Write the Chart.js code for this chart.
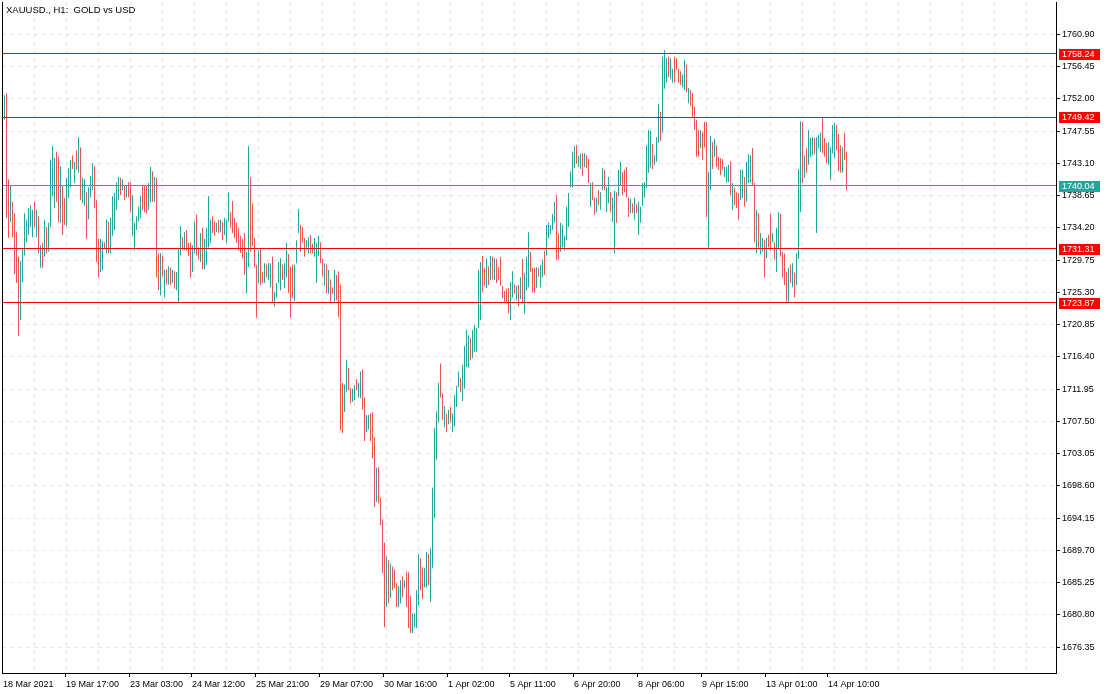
<!DOCTYPE html>
<html><head><meta charset="utf-8">
<script src="https://cdn.jsdelivr.net/npm/chart.js@4.4.0/dist/chart.umd.min.js"></script>
<style>html,body{margin:0;padding:0;background:#fff;}#wrap{width:1110px;height:694px;position:relative;}</style>
</head><body><div id="wrap"><canvas id="c" width="1110" height="694"></canvas></div>
<script>
const chartTitle = 'XAUUSD., H1:  GOLD vs USD';
const highs = [
1752.5,1752.8,1740.9,1740.1,1737.8,1736.2,1733.6,1730.2,1729.6,1731.4,
1736.2,1735.3,1736.9,1737.3,1736.7,1737.8,1736.7,1735.8,1731.8,1732.1,
1735.3,1734.3,1734.9,1743.6,1745.5,1743.8,1744.7,1744.0,1742.7,1740.1,
1738.3,1741.1,1742.5,1743.6,1744.2,1743.3,1744.9,1746.7,1745.3,1741.1,
1740.9,1739.1,1739.8,1741.3,1743.1,1742.7,1738.0,1732.7,1732.7,1732.4,
1732.2,1735.3,1735.0,1735.6,1738.6,1739.0,1740.5,1741.2,1741.1,1740.9,
1740.1,1740.1,1740.5,1740.5,1738.7,1734.9,1735.8,1737.1,1738.6,1740.0,
1740.1,1740.0,1740.4,1742.6,1742.0,1741.2,1741.1,1730.7,1730.7,1730.4,
1728.4,1728.5,1728.9,1728.7,1728.4,1728.2,1728.1,1731.5,1734.4,1732.9,
1733.6,1733.9,1732.1,1732.2,1731.8,1735.0,1736.0,1731.5,1733.5,1734.2,
1732.7,1734.2,1738.6,1735.3,1735.8,1735.1,1734.9,1735.3,1735.3,1735.0,
1735.6,1735.3,1739.1,1736.4,1737.9,1735.6,1734.9,1734.2,1733.1,1732.7,
1733.5,1730.9,1745.5,1741.2,1737.6,1732.8,1729.1,1731.1,1731.4,1728.1,
1729.3,1729.1,1729.3,1729.3,1730.2,1725.3,1726.6,1729.5,1730.0,1729.1,
1729.3,1732.1,1730.6,1728.8,1729.1,1729.1,1732.5,1736.8,1734.6,1734.3,
1732.8,1732.5,1732.9,1733.2,1732.0,1732.8,1732.1,1733.1,1732.2,1729.9,
1729.3,1729.1,1728.4,1727.1,1726.0,1728.4,1727.7,1728.2,1726.4,1712.8,
1712.6,1716.0,1714.9,1712.1,1712.0,1712.5,1713.3,1712.8,1714.4,1714.7,
1710.8,1708.4,1708.4,1708.6,1708.8,1705.3,1701.1,1701.2,1697.0,1694.0,
1690.8,1688.9,1688.4,1687.9,1687.5,1687.1,1685.2,1684.8,1685.6,1686.1,
1685.6,1686.8,1686.7,1683.5,1681.0,1681.0,1684.2,1689.2,1688.6,1687.4,
1687.3,1689.5,1689.2,1690.0,1698.4,1706.6,1708.9,1712.8,1715.5,1711.4,
1709.6,1708.6,1709.1,1709.5,1708.6,1711.1,1712.4,1714.4,1713.5,1715.3,
1717.9,1720.1,1719.4,1719.0,1720.1,1720.8,1720.4,1728.4,1729.5,1730.3,
1728.7,1730.0,1728.9,1730.3,1730.2,1730.0,1729.9,1728.8,1730.2,1726.2,
1725.5,1725.8,1725.9,1726.7,1728.2,1726.4,1726.2,1726.3,1727.4,1729.9,
1728.0,1730.2,1733.6,1730.9,1728.7,1728.7,1728.8,1728.7,1729.1,1729.8,
1731.0,1734.6,1734.9,1734.6,1736.1,1737.8,1738.7,1733.5,1734.9,1734.6,
1733.1,1737.1,1739.0,1742.0,1744.7,1745.5,1745.6,1744.1,1744.5,1744.5,
1744.5,1744.2,1743.7,1740.4,1740.5,1738.4,1738.4,1739.4,1739.1,1742.5,
1742.2,1739.8,1741.2,1739.1,1738.4,1739.3,1739.1,1742.2,1743.3,1741.9,
1742.2,1742.6,1738.4,1738.2,1737.6,1738.4,1737.5,1737.8,1737.1,1740.4,
1740.5,1745.6,1747.7,1747.6,1745.8,1744.2,1746.7,1751.3,1750.2,1757.8,
1758.7,1757.6,1757.8,1757.6,1756.1,1757.8,1757.6,1756.1,1755.8,1755.3,
1757.4,1756.7,1753.5,1753.2,1752.8,1750.9,1749.1,1747.7,1747.7,1747.4,
1748.8,1748.8,1741.9,1746.9,1746.0,1746.5,1745.6,1744.0,1743.8,1743.7,
1742.6,1742.6,1742.9,1743.4,1740.4,1739.7,1739.1,1739.0,1742.2,1742.2,
1741.2,1743.3,1744.4,1744.2,1745.2,1740.4,1736.7,1736.2,1733.5,1732.8,
1732.5,1732.8,1733.2,1736.1,1733.5,1732.2,1734.2,1736.4,1736.1,1730.9,
1730.7,1728.1,1728.7,1729.1,1729.3,1728.0,1730.7,1742.3,1748.9,1748.8,
1744.2,1745.2,1747.7,1746.6,1746.7,1746.6,1746.7,1747.0,1747.3,1749.5,
1746.6,1745.9,1746.0,1745.3,1748.4,1748.7,1748.4,1747.1,1745.6,1745.3,
1747.3,1744.7
];
const lows = [
1749.1,1735.6,1732.8,1735.0,1732.9,1727.8,1726.6,1719.3,1721.5,1726.7,
1730.4,1732.2,1733.2,1734.3,1732.9,1734.3,1732.9,1730.7,1728.7,1728.7,
1730.2,1730.7,1730.9,1734.3,1738.6,1736.9,1737.8,1735.0,1734.9,1733.2,
1734.6,1734.4,1738.3,1739.8,1742.3,1740.4,1742.2,1741.8,1738.0,1737.6,
1737.2,1732.7,1735.4,1738.4,1739.4,1736.9,1729.5,1727.4,1728.1,1728.3,
1731.4,1730.7,1730.7,1730.7,1733.1,1733.9,1736.7,1738.0,1738.7,1739.4,
1738.0,1738.4,1738.4,1736.4,1733.1,1731.1,1733.9,1735.1,1735.6,1736.7,
1736.4,1736.2,1736.7,1737.8,1737.8,1737.8,1727.4,1725.6,1724.9,1727.5,
1724.6,1726.4,1726.4,1726.3,1726.6,1725.8,1725.6,1724.0,1730.4,1731.1,
1731.1,1731.0,1730.3,1727.3,1728.1,1730.7,1730.4,1729.8,1729.5,1728.5,
1728.5,1729.1,1731.5,1732.1,1733.5,1733.1,1733.6,1733.5,1733.6,1732.5,
1733.2,1732.1,1735.0,1734.2,1733.5,1732.8,1732.1,1731.1,1730.7,1730.0,
1727.7,1725.2,1728.8,1730.9,1731.7,1728.8,1721.8,1726.6,1726.3,1726.6,
1726.6,1727.4,1727.0,1726.0,1724.0,1723.3,1724.6,1726.6,1725.6,1727.0,
1725.9,1727.4,1725.2,1721.8,1724.5,1724.1,1729.3,1733.5,1730.9,1732.1,
1730.2,1731.5,1730.7,1730.7,1730.7,1730.2,1726.6,1730.3,1729.3,1727.5,
1726.2,1725.2,1725.1,1723.8,1725.1,1724.0,1724.2,1721.9,1706.3,1705.9,
1708.8,1711.5,1711.8,1710.0,1710.2,1710.4,1711.8,1710.8,1710.7,1709.1,
1704.8,1706.0,1706.4,1704.8,1702.4,1695.7,1696.4,1696.2,1693.2,1686.6,
1679.1,1681.9,1682.4,1683.1,1684.2,1684.5,1681.9,1681.9,1682.4,1683.2,
1684.5,1681.9,1679.0,1678.3,1678.3,1679.1,1679.0,1682.1,1684.2,1683.0,
1684.6,1684.6,1684.9,1682.6,1687.3,1694.2,1702.2,1707.3,1710.8,1707.7,
1706.7,1706.0,1707.1,1707.3,1706.0,1706.8,1709.5,1712.2,1711.5,1710.3,
1712.0,1715.0,1714.9,1716.0,1716.2,1717.1,1717.1,1720.4,1721.5,1725.3,
1726.2,1725.9,1726.3,1727.0,1727.1,1727.0,1726.6,1727.0,1726.2,1724.5,
1724.0,1723.8,1722.4,1721.5,1724.6,1725.1,1724.2,1723.4,1724.4,1723.8,
1722.4,1725.6,1726.0,1728.1,1725.3,1725.2,1725.9,1727.5,1726.0,1727.4,
1727.7,1730.4,1732.8,1733.3,1733.9,1734.9,1729.8,1729.8,1730.9,1731.5,
1731.1,1732.5,1734.3,1739.8,1739.8,1742.5,1743.0,1742.6,1742.3,1741.3,
1742.6,1742.5,1740.4,1737.1,1738.0,1736.0,1736.4,1737.3,1736.7,1739.4,
1739.4,1736.4,1737.6,1736.4,1735.0,1730.7,1734.9,1738.6,1740.0,1738.7,
1739.1,1738.4,1735.7,1736.2,1736.2,1735.3,1736.2,1733.2,1734.9,1737.2,
1738.4,1739.7,1741.8,1742.5,1742.3,1742.9,1743.3,1745.9,1746.2,1747.3,
1753.4,1754.2,1755.0,1754.7,1754.2,1754.3,1756.0,1754.2,1753.9,1753.6,
1753.2,1752.9,1751.4,1751.0,1749.5,1747.7,1744.0,1744.0,1745.2,1743.6,
1745.3,1735.7,1731.4,1739.4,1742.3,1744.0,1742.6,1742.2,1741.5,1742.2,
1741.2,1740.5,1740.5,1738.7,1736.7,1737.3,1736.9,1735.3,1738.0,1738.3,
1737.1,1737.8,1740.4,1740.5,1740.1,1732.2,1730.7,1731.5,1730.6,1730.9,
1727.4,1730.0,1731.5,1731.1,1732.2,1729.8,1728.1,1731.4,1730.2,1727.3,
1726.3,1724.0,1723.8,1726.6,1726.0,1724.6,1726.3,1729.9,1736.4,1740.4,
1741.1,1741.8,1742.9,1744.0,1744.2,1744.4,1733.5,1745.2,1744.7,1744.5,
1744.0,1743.1,1742.9,1740.8,1744.5,1743.8,1744.9,1742.0,1741.8,1741.8,
1743.6,1739.4
];
// 1 = bullish (close above open), 0 = bearish
const bullish = [
1,0,0,1,0,0,0,0,1,1, 1,1,1,1,1,0,1,0,1,0, 1,0,1,1,1,1,0,0,1,0, 0,1,1,1,0,1,0,1,0,1,
1,0,1,1,1,0,0,0,1,1, 0,1,0,1,1,1,1,1,0,1, 0,1,0,0,1,1,1,1,1,0, 0,0,1,1,0,1,0,0,1,0,
1,0,1,0,1,0,1,1,1,0, 1,0,0,0,1,1,0,0,1,0, 1,1,1,1,0,0,1,0,1,0, 1,1,1,0,0,0,0,0,0,0,
0,1,1,0,0,0,0,1,0,0, 1,0,1,1,0,1,1,1,1,0, 1,1,0,0,0,1,1,1,0,0, 0,1,1,0,0,1,1,1,0,0,
1,0,1,0,0,1,0,0,0,0, 1,1,0,0,1,1,0,1,1,0, 0,1,1,0,0,0,1,0,0,0, 0,1,0,1,0,0,0,1,1,0,
1,0,0,0,1,1,1,1,0,0, 1,1,0,1,1,1,1,1,0,0, 1,0,1,0,1,1,1,1,0,1, 1,1,1,0,1,1,1,1,1,0,
0,1,0,1,0,1,0,0,0,0, 0,0,0,1,1,0,1,0,1,0, 1,1,1,0,0,0,1,0,1,1, 0,1,1,1,1,1,0,0,1,1,
1,1,1,1,1,1,0,1,1,0, 1,0,0,1,0,0,1,0,1,1, 0,1,1,0,1,1,0,1,1,0, 0,0,0,1,0,1,0,1,1,1,
1,1,1,1,0,1,1,1,0,1, 1,1,0,1,1,0,0,0,0,1, 1,0,1,0,0,0,0,0,1,0, 0,0,1,1,0,1,0,0,0,0,
1,1,1,0,1,0,0,0,1,1, 0,1,1,1,0,0,1,0,1,1, 0,1,0,0,1,0,1,1,0,0, 0,0,1,0,1,0,1,1,1,0,
1,0,1,1,1,0,1,1,1,0, 0,0,1,1,1,1,0,0,0,1, 0,0
];
const priceTicks = [1676.35,1680.80,1685.25,1689.70,1694.15,1698.60,1703.05,1707.50,1711.95,1716.40,
  1720.85,1725.30,1729.75,1734.20,1738.65,1743.10,1747.55,1752.00,1756.45,1760.90];
const timeLabels = ['18 Mar 2021','19 Mar 17:00','23 Mar 03:00','24 Mar 12:00','25 Mar 21:00','29 Mar 07:00',
  '30 Mar 16:00','1 Apr 02:00','5 Apr 11:00','6 Apr 20:00','8 Apr 06:00','9 Apr 15:00','13 Apr 01:00','14 Apr 10:00'];
const timeLabelBars = [0,31,63,94,126,158,190,222,253,285,317,349,381,412];
const levelLines = [1758.24,1749.42,1731.31,1723.87];
const lastPrice = 1740.04;

const UP = '#26a69a', DOWN = '#ef5350', GRID = '#e4e4e4';
const FONT = '9px "Liberation Sans", Arial, sans-serif';

const candles = highs.map((h, i) => ({x: i, y: [lows[i], h]}));
const gridBars = [];
for (let b = 15; b < 526; b += 16) gridBars.push(b);

const overlay = {
  id: 'overlay',
  afterDatasetsDraw(chart) {
    const {ctx, chartArea: a, scales: {y}} = chart;
    ctx.save();
    ctx.lineWidth = 1;
    const hline = (v, col) => {
      const py = Math.round(y.getPixelForValue(v) - 0.5) + 0.5;
      ctx.strokeStyle = col;
      ctx.beginPath(); ctx.moveTo(a.left, py); ctx.lineTo(a.right, py); ctx.stroke();
    };
    levelLines.forEach(v => hline(v, '#ff0000'));
    hline(lastPrice, UP);
    ctx.restore();
  },
  afterDraw(chart) {
    const {ctx, chartArea: a, scales: {x, y}} = chart;
    ctx.save();
    ctx.strokeStyle = '#000'; ctx.lineWidth = 1;
    ctx.beginPath();
    ctx.moveTo(a.left + 0.5, a.top); ctx.lineTo(a.left + 0.5, a.bottom);
    ctx.stroke();
    ctx.font = FONT; ctx.textBaseline = 'middle'; ctx.textAlign = 'left';
    const tag = (v, col) => {
      const py = Math.round(y.getPixelForValue(v));
      ctx.fillStyle = col;
      ctx.fillRect(a.right + 3, py - 5, 41, 11);
      ctx.fillStyle = '#fff';
      ctx.fillText(v.toFixed(2), a.right + 6, py + 0.5);
    };
    levelLines.forEach(v => tag(v, '#ff0000'));
    tag(lastPrice, UP);
    ctx.fillStyle = '#000';
    timeLabels.forEach((t, k) => {
      const px = Math.round(x.getPixelForValue(timeLabelBars[k]) - 0.5);
      if (k > 0) {
        ctx.beginPath(); ctx.moveTo(px - 0.5, a.bottom); ctx.lineTo(px - 0.5, a.bottom + 4); ctx.stroke();
        ctx.fillText(t, px, a.bottom + 12);
      } else {
        ctx.fillText(t, a.left + 1, a.bottom + 12);
      }
    });
    ctx.font = '9.5px "Liberation Sans", Arial, sans-serif';
    ctx.fillText(chartTitle, 6, 10);
    ctx.restore();
  }
};

new Chart(document.getElementById('c'), {
  type: 'bar',
  data: {datasets: [{
    data: candles,
    backgroundColor: c => bullish[c.dataIndex] ? UP : DOWN,
    barThickness: 1, borderWidth: 0, inflateAmount: 0, grouped: false, borderSkipped: false
  }]},
  options: {
    responsive: false, animation: false, devicePixelRatio: 1,
    layout: {autoPadding: false, padding: {left: 2, top: 2, right: 0, bottom: 0}},
    plugins: {legend: {display: false}, tooltip: {enabled: false}, title: {display: false}},
    scales: {
      x: {
        type: 'linear', min: -1.25, max: 525.75, position: 'bottom', offset: false,
        afterFit(s) { s.height = 21; s.paddingLeft = 0; s.paddingRight = 0; },
        afterBuildTicks(s) { s.ticks = gridBars.map(v => ({value: v})); },
        ticks: {display: false},
        grid: {color: GRID, drawTicks: false, lineWidth: 1, offset: false},
        border: {display: true, color: '#000', width: 1, dash: [4, 4]}
      },
      y: {
        position: 'right', min: 1672.80, max: 1765.35,
        afterFit(s) { s.width = 54; s.paddingTop = 0; s.paddingBottom = 0; },
        afterBuildTicks(s) { s.ticks = priceTicks.map(v => ({value: v})); },
        ticks: {font: {family: '"Liberation Sans", Arial, sans-serif', size: 9}, color: '#000', padding: 2,
                callback: v => Number(v).toFixed(2), autoSkip: false},
        grid: {color: GRID, tickLength: 4, tickColor: '#000', tickWidth: 1, tickBorderDash: [], lineWidth: 1},
        border: {display: true, color: '#000', width: 1, dash: [4, 4]}
      }
    }
  },
  plugins: [overlay]
});
</script></body></html>
